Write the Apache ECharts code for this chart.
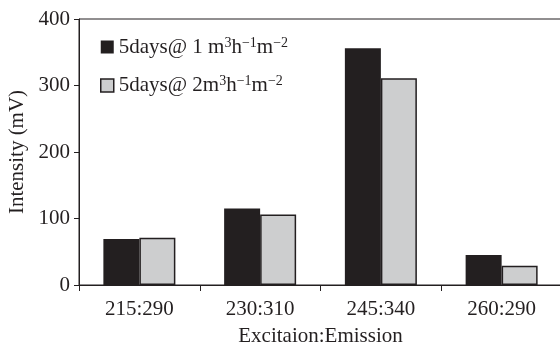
<!DOCTYPE html>
<html>
<head>
<meta charset="utf-8">
<script src="https://cdn.jsdelivr.net/npm/echarts@6/dist/echarts.min.js"></script>
<style>
  html, body { margin: 0; padding: 0; background: #fff; }
  #chart { width: 560px; height: 347px; }
</style>
</head>
<body>
<div id="chart"></div>
<script>
// data
const categories = ['215:290', '230:310', '245:340', '260:290'];
const flow1 = [69, 115, 356, 45];   // 5days @ 1 m3h-1m-2
const flow2 = [71, 106, 311, 29];   // 5days @ 2 m3h-1m-2
const yTicks = [0, 100, 200, 300, 400];

const ink = '#231f20';
const font = '"Liberation Serif", "DejaVu Serif", serif';

const chart = echarts.init(document.getElementById('chart'));

const legendText = {
    'flow1': '5days@ 1 m{sup|3}h{sup|−1}m{sup|−2}',
    'flow2': '5days@ 2m{sup|3}h{sup|−1}m{sup|−2}'
};

const option = {
    animation: false,
    grid: {
        left: 79,
        top: 19,
        right: -2,
        bottom: 62,
        outerBoundsMode: 'none',
        containLabel: false,
        show: true,
        borderColor: ink,
        borderWidth: 1
    },
    legend: {
        orient: 'vertical',
        left: 95,
        top: 31,
        icon: 'rect',
        itemWidth: 13,
        itemHeight: 13,
        itemGap: 17,
        data: [
            { name: 'flow1', itemStyle: { borderWidth: 0 } },
            { name: 'flow2', itemStyle: { borderColor: ink, borderWidth: 1.5 } }
        ],
        formatter: name => legendText[name],
        textStyle: {
            fontFamily: font,
            fontSize: 21,
            color: ink,
            rich: {
                sup: { fontFamily: font, fontSize: 14, color: ink, padding: [0, 0, 8, 0] }
            }
        }
    },
    xAxis: {
        type: 'category',
        data: categories,
        name: 'Excitaion:Emission',
        nameLocation: 'middle',
        nameGap: 41,
        nameTextStyle: { fontFamily: font, fontSize: 21, color: ink },
        axisLine: { lineStyle: { color: ink, width: 1 } },
        axisTick: { show: true, length: 6, lineStyle: { color: ink } },
        axisLabel: { fontFamily: font, fontSize: 21, color: ink, margin: 14 },
        splitLine: { show: false }
    },
    yAxis: {
        type: 'value',
        min: yTicks[0],
        max: yTicks[yTicks.length - 1],
        interval: 100,
        name: 'Intensity (mV)',
        nameLocation: 'middle',
        nameGap: 50,
        nameTextStyle: { fontFamily: font, fontSize: 21, color: ink },
        axisLine: { show: true, lineStyle: { color: ink, width: 1 } },
        axisTick: { show: true, length: 5, lineStyle: { color: ink } },
        axisLabel: { fontFamily: font, fontSize: 21, color: ink, margin: 9 },
        splitLine: { show: false }
    },
    series: [
        {
            name: 'flow1',
            type: 'bar',
            data: flow1,
            barWidth: 36,
            barGap: '0%',
            itemStyle: { color: ink, borderColor: ink, borderWidth: 0 }
        },
        {
            name: 'flow2',
            type: 'bar',
            data: flow2,
            barWidth: 36,
            itemStyle: { color: '#cdcecf', borderColor: ink, borderWidth: 1.5 }
        }
    ]
};

chart.setOption(option);
</script>
</body>
</html>
